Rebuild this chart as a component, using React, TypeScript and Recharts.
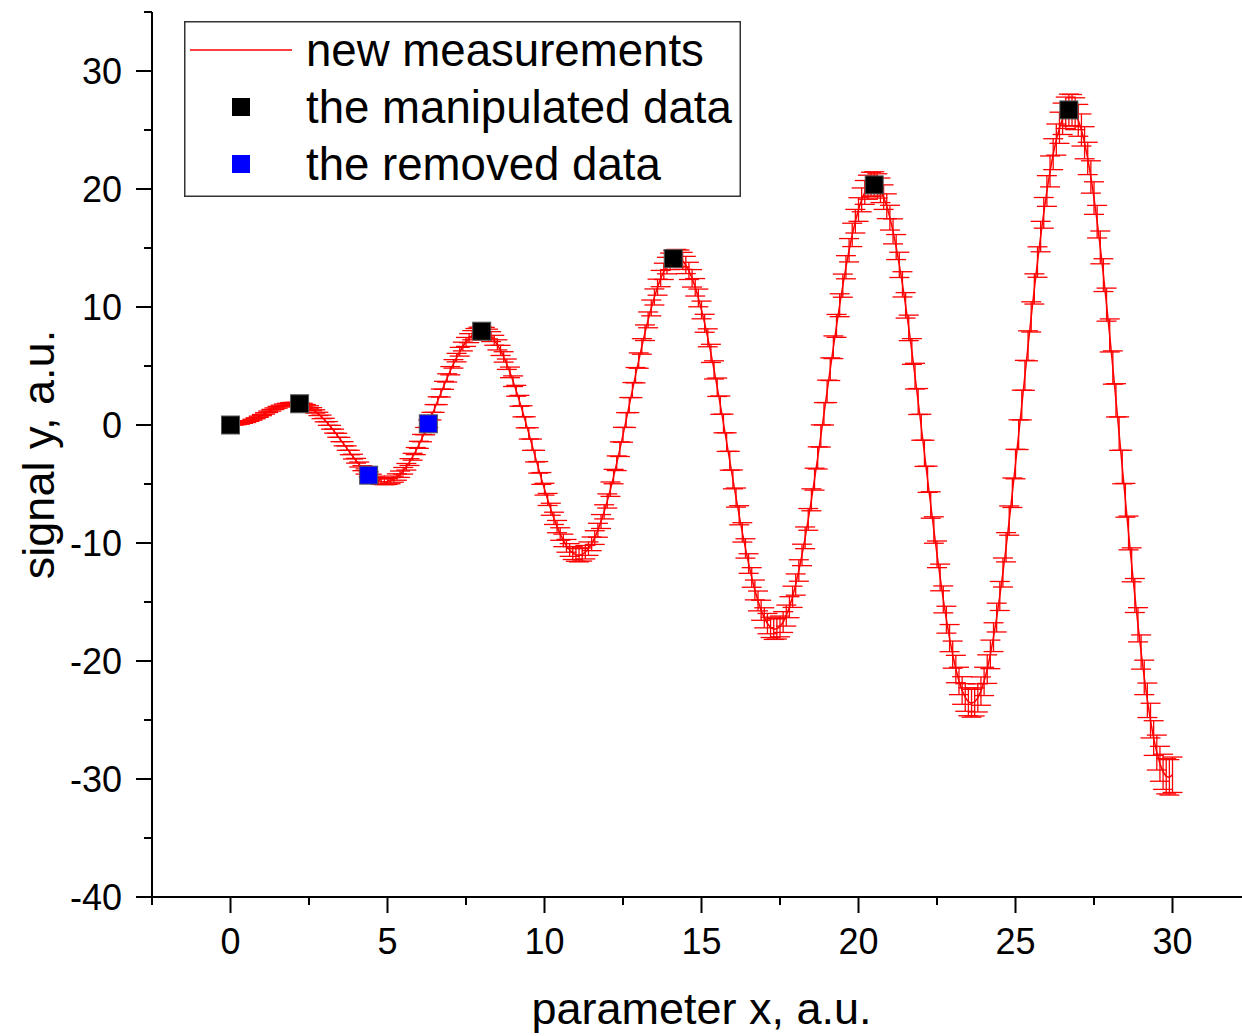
import React from 'react';
import { ScatterChart, Scatter, XAxis, YAxis, ErrorBar, Legend } from 'recharts';

const FONT = '"Liberation Sans", Arial, sans-serif';

// axis ticks (major ones carry a label, minor ones only a short tick)
const X_MAJOR_TICKS = [0, 5, 10, 15, 20, 25, 30];
const X_MINOR_TICKS = [-2.5, 2.5, 7.5, 12.5, 17.5, 22.5, 27.5, 32.5];
const Y_MAJOR_TICKS = [-40, -30, -20, -10, 0, 10, 20, 30];
const Y_MINOR_TICKS = [-35, -25, -15, -5, 5, 15, 25, 35];

const MEAS_X = [
  0, 0.1, 0.2, 0.3, 0.4, 0.5, 0.6, 0.7, 0.8, 0.9,
  1, 1.1, 1.2, 1.3, 1.4, 1.5, 1.6, 1.7, 1.8, 1.9,
  2, 2.1, 2.2, 2.3, 2.4, 2.5, 2.6, 2.7, 2.8, 2.9,
  3, 3.1, 3.2, 3.3, 3.4, 3.5, 3.6, 3.7, 3.8, 3.9,
  4, 4.1, 4.2, 4.3, 4.4, 4.5, 4.6, 4.7, 4.8, 4.9,
  5, 5.1, 5.2, 5.3, 5.4, 5.5, 5.6, 5.7, 5.8, 5.9,
  6, 6.1, 6.2, 6.3, 6.4, 6.5, 6.6, 6.7, 6.8, 6.9,
  7, 7.1, 7.2, 7.3, 7.4, 7.5, 7.6, 7.7, 7.8, 7.9,
  8, 8.1, 8.2, 8.3, 8.4, 8.5, 8.6, 8.7, 8.8, 8.9,
  9, 9.1, 9.2, 9.3, 9.4, 9.5, 9.6, 9.7, 9.8, 9.9,
  10, 10.1, 10.2, 10.3, 10.4, 10.5, 10.6, 10.7, 10.8, 10.9,
  11, 11.1, 11.2, 11.3, 11.4, 11.5, 11.6, 11.7, 11.8, 11.9,
  12, 12.1, 12.2, 12.3, 12.4, 12.5, 12.6, 12.7, 12.8, 12.9,
  13, 13.1, 13.2, 13.3, 13.4, 13.5, 13.6, 13.7, 13.8, 13.9,
  14, 14.1, 14.2, 14.3, 14.4, 14.5, 14.6, 14.7, 14.8, 14.9,
  15, 15.1, 15.2, 15.3, 15.4, 15.5, 15.6, 15.7, 15.8, 15.9,
  16, 16.1, 16.2, 16.3, 16.4, 16.5, 16.6, 16.7, 16.8, 16.9,
  17, 17.1, 17.2, 17.3, 17.4, 17.5, 17.6, 17.7, 17.8, 17.9,
  18, 18.1, 18.2, 18.3, 18.4, 18.5, 18.6, 18.7, 18.8, 18.9,
  19, 19.1, 19.2, 19.3, 19.4, 19.5, 19.6, 19.7, 19.8, 19.9,
  20, 20.1, 20.2, 20.3, 20.4, 20.5, 20.6, 20.7, 20.8, 20.9,
  21, 21.1, 21.2, 21.3, 21.4, 21.5, 21.6, 21.7, 21.8, 21.9,
  22, 22.1, 22.2, 22.3, 22.4, 22.5, 22.6, 22.7, 22.8, 22.9,
  23, 23.1, 23.2, 23.3, 23.4, 23.5, 23.6, 23.7, 23.8, 23.9,
  24, 24.1, 24.2, 24.3, 24.4, 24.5, 24.6, 24.7, 24.8, 24.9,
  25, 25.1, 25.2, 25.3, 25.4, 25.5, 25.6, 25.7, 25.8, 25.9,
  26, 26.1, 26.2, 26.3, 26.4, 26.5, 26.6, 26.7, 26.8, 26.9,
  27, 27.1, 27.2, 27.3, 27.4, 27.5, 27.6, 27.7, 27.8, 27.9,
  28, 28.1, 28.2, 28.3, 28.4, 28.5, 28.6, 28.7, 28.8, 28.9,
  29, 29.1, 29.2, 29.3, 29.4, 29.5, 29.6, 29.7, 29.8, 29.9,
  30,
];

const MEAS_Y = [
  0, 0.01, 0.04, 0.09, 0.16, 0.24, 0.34, 0.45, 0.57, 0.7,
  0.84, 0.98, 1.12, 1.25, 1.38, 1.5, 1.6, 1.69, 1.75, 1.8,
  1.82, 1.81, 1.78, 1.72, 1.62, 1.5, 1.34, 1.15, 0.94, 0.69,
  0.42, 0.13, -0.19, -0.52, -0.87, -1.23, -1.59, -1.96, -2.33, -2.68,
  -3.03, -3.35, -3.66, -3.94, -4.19, -4.4, -4.57, -4.7, -4.78, -4.81,
  -4.79, -4.72, -4.59, -4.41, -4.17, -3.88, -3.54, -3.14, -2.69, -2.21,
  -1.68, -1.11, -0.52, 0.11, 0.75, 1.4, 2.06, 2.71, 3.36, 3.99,
  4.6, 5.18, 5.71, 6.21, 6.65, 7.04, 7.36, 7.61, 7.79, 7.89,
  7.91, 7.86, 7.71, 7.49, 7.18, 6.79, 6.32, 5.77, 5.15, 4.46,
  3.71, 2.9, 2.05, 1.16, 0.23, -0.71, -1.67, -2.64, -3.59, -4.53,
  -5.44, -6.31, -7.14, -7.91, -8.61, -9.24, -9.78, -10.24, -10.59, -10.85,
  -11.0, -11.04, -10.97, -10.78, -10.48, -10.07, -9.54, -8.92, -8.18, -7.36,
  -6.44, -5.44, -4.37, -3.24, -2.05, -0.83, 0.42, 1.69, 2.96, 4.22,
  5.46, 6.66, 7.82, 8.91, 9.92, 10.85, 11.68, 12.41, 13.02, 13.51,
  13.87, 14.09, 14.17, 14.11, 13.91, 13.56, 13.06, 12.43, 11.67, 10.77,
  9.75, 8.62, 7.39, 6.07, 4.67, 3.2, 1.68, 0.13, -1.45, -3.03,
  -4.61, -6.15, -7.65, -9.1, -10.46, -11.74, -12.92, -13.98, -14.91, -15.7,
  -16.34, -16.83, -17.15, -17.3, -17.27, -17.07, -16.7, -16.15, -15.44, -14.56,
  -13.52, -12.33, -11.01, -9.56, -8.0, -6.34, -4.59, -2.79, -0.93, 0.95,
  2.85, 4.73, 6.59, 8.4, 10.15, 11.81, 13.37, 14.81, 16.11, 17.27,
  18.26, 19.08, 19.71, 20.15, 20.4, 20.43, 20.26, 19.89, 19.31, 18.54,
  17.57, 16.41, 15.08, 13.57, 11.92, 10.14, 8.23, 6.23, 4.14, 1.99,
  -0.19, -2.4, -4.6, -6.78, -8.9, -10.96, -12.92, -14.78, -16.5, -18.06,
  -19.46, -20.68, -21.69, -22.5, -23.09, -23.46, -23.58, -23.47, -23.13, -22.55,
  -21.73, -20.69, -19.44, -17.98, -16.32, -14.49, -12.5, -10.36, -8.1, -5.74,
  -3.31, -0.82, 1.69, 4.21, 6.71, 9.16, 11.53, 13.81, 15.97, 17.98,
  19.83, 21.49, 22.95, 24.19, 25.19, 25.95, 26.46, 26.7, 26.67, 26.38,
  25.82, 25.0, 23.92, 22.59, 21.02, 19.23, 17.23, 15.05, 12.7, 10.2,
  7.59, 4.87, 2.09, -0.73, -3.56, -6.38, -9.15, -11.85, -14.45, -16.93,
  -19.24, -21.39, -23.33, -25.05, -26.53, -27.76, -28.71, -29.39, -29.77, -29.86,
  -29.64,
];

const MEAS_ERR = [
  0, 0.01, 0.01, 0.02, 0.02, 0.03, 0.03, 0.04, 0.04, 0.05,
  0.05, 0.06, 0.06, 0.07, 0.07, 0.08, 0.08, 0.09, 0.09, 0.1,
  0.1, 0.11, 0.11, 0.12, 0.12, 0.13, 0.13, 0.14, 0.14, 0.15,
  0.15, 0.16, 0.16, 0.17, 0.17, 0.18, 0.18, 0.19, 0.19, 0.2,
  0.2, 0.21, 0.21, 0.22, 0.22, 0.23, 0.23, 0.24, 0.24, 0.25,
  0.25, 0.26, 0.26, 0.27, 0.27, 0.28, 0.28, 0.29, 0.29, 0.3,
  0.3, 0.31, 0.31, 0.32, 0.32, 0.33, 0.33, 0.34, 0.34, 0.35,
  0.35, 0.36, 0.36, 0.37, 0.37, 0.38, 0.38, 0.39, 0.39, 0.4,
  0.4, 0.41, 0.41, 0.42, 0.42, 0.43, 0.43, 0.44, 0.44, 0.45,
  0.45, 0.46, 0.46, 0.47, 0.47, 0.48, 0.48, 0.49, 0.49, 0.5,
  0.5, 0.51, 0.51, 0.52, 0.52, 0.53, 0.53, 0.54, 0.54, 0.55,
  0.55, 0.56, 0.56, 0.57, 0.57, 0.58, 0.58, 0.59, 0.59, 0.6,
  0.6, 0.61, 0.61, 0.62, 0.62, 0.63, 0.63, 0.64, 0.64, 0.65,
  0.65, 0.66, 0.66, 0.67, 0.67, 0.68, 0.68, 0.69, 0.69, 0.7,
  0.7, 0.71, 0.71, 0.72, 0.72, 0.73, 0.73, 0.74, 0.74, 0.75,
  0.75, 0.76, 0.76, 0.77, 0.77, 0.78, 0.78, 0.79, 0.79, 0.8,
  0.8, 0.81, 0.81, 0.82, 0.82, 0.83, 0.83, 0.84, 0.84, 0.85,
  0.85, 0.86, 0.86, 0.87, 0.87, 0.88, 0.88, 0.89, 0.89, 0.9,
  0.9, 0.91, 0.91, 0.92, 0.92, 0.93, 0.93, 0.94, 0.94, 0.95,
  0.95, 0.96, 0.96, 0.97, 0.97, 0.98, 0.98, 0.99, 0.99, 1.0,
  1.0, 1.01, 1.01, 1.02, 1.02, 1.03, 1.03, 1.04, 1.04, 1.05,
  1.05, 1.06, 1.06, 1.07, 1.07, 1.08, 1.08, 1.09, 1.09, 1.1,
  1.1, 1.11, 1.11, 1.12, 1.12, 1.13, 1.13, 1.14, 1.14, 1.15,
  1.15, 1.16, 1.16, 1.17, 1.17, 1.18, 1.18, 1.19, 1.19, 1.2,
  1.2, 1.21, 1.21, 1.22, 1.22, 1.23, 1.23, 1.24, 1.24, 1.25,
  1.25, 1.26, 1.26, 1.27, 1.27, 1.28, 1.28, 1.29, 1.29, 1.3,
  1.3, 1.31, 1.31, 1.32, 1.32, 1.33, 1.33, 1.34, 1.34, 1.35,
  1.35, 1.36, 1.36, 1.37, 1.37, 1.38, 1.38, 1.39, 1.39, 1.4,
  1.4, 1.41, 1.41, 1.42, 1.42, 1.43, 1.43, 1.44, 1.44, 1.45,
  1.45, 1.46, 1.46, 1.47, 1.47, 1.48, 1.48, 1.49, 1.49, 1.5,
  1.5,
];

// highlighted points
const KEPT_X = [0, 2.2, 8.0, 14.1, 20.5, 26.7];
const KEPT_Y = [0, 1.8, 7.95, 14.1, 20.35, 26.7];
const REMOVED_X = [4.4, 6.3];
const REMOVED_Y = [-4.25, 0.1];

const measurements = MEAS_X.map((x, i) => ({ x, y: MEAS_Y[i], err: MEAS_ERR[i] }));
const kept = KEPT_X.map((x, i) => ({ x, y: KEPT_Y[i] }));
const removed = REMOVED_X.map((x, i) => ({ x, y: REMOVED_Y[i] }));

const X_TICKS = [...X_MINOR_TICKS, ...X_MAJOR_TICKS].sort((a, b) => a - b);
const Y_TICKS = [...Y_MINOR_TICKS, ...Y_MAJOR_TICKS].sort((a, b) => a - b);

const renderXTick = (props: any) => {
  const { x, y, payload } = props;
  const major = X_MAJOR_TICKS.includes(payload.value);
  return (
    <g>
      <line x1={x} y1={y} x2={x} y2={y + (major ? 16 : 8)} stroke="#000" strokeWidth={2} />
      {major && (
        <text x={x} y={y + 57} textAnchor="middle" fontSize={36} fontFamily={FONT} fill="#000">
          {payload.value}
        </text>
      )}
    </g>
  );
};

const renderYTick = (props: any) => {
  const { x, y, payload } = props;
  const major = Y_MAJOR_TICKS.includes(payload.value);
  return (
    <g>
      <line x1={x - (major ? 16 : 8)} y1={y} x2={x} y2={y} stroke="#000" strokeWidth={2} />
      {major && (
        <text x={x - 30} y={y + 13} textAnchor="end" fontSize={36} fontFamily={FONT} fill="#000">
          {payload.value}
        </text>
      )}
    </g>
  );
};

const renderNothing = () => <g />;

const renderSquare = (props: any) => (
  <rect
    x={props.cx - 9}
    y={props.cy - 9}
    width={18}
    height={18}
    fill={props.fill}
    stroke="#555"
    strokeWidth={1}
  />
);

const renderLegend = (props: any) => {
  const payload = props.payload || [];
  return (
    <svg width={557} height={176} style={{ display: 'block' }}>
      <rect x={0.75} y={0.75} width={555.5} height={174.5} fill="#fff" stroke="#333" strokeWidth={1.5} />
      {payload.map((entry: any, i: number) => {
        const cy = 29 + i * 57;
        return (
          <g key={entry.value}>
            {entry.type === 'line' ? (
              <line x1={6} y1={cy} x2={108} y2={cy} stroke={entry.color} strokeWidth={1.5} />
            ) : (
              <rect x={48} y={cy - 9} width={18} height={18} fill={entry.color} />
            )}
            <text x={122} y={cy + 16} fontSize={45.6} fontFamily={FONT} fill="#000">
              {entry.value}
            </text>
          </g>
        );
      })}
    </svg>
  );
};

export default function App() {
  return (
    <div
      style={{
        position: 'absolute',
        left: 0,
        top: 0,
        width: 1242,
        height: 1036,
        overflow: 'hidden',
        background: '#fff',
      }}
    >
      <ScatterChart width={1260} height={1036} margin={{ top: 12, right: 9, bottom: 0, left: 0 }}>
        <XAxis
          type="number"
          dataKey="x"
          domain={[-2.5, 32.5]}
          ticks={X_TICKS}
          interval={0}
          allowDataOverflow
          height={139}
          tickSize={0}
          tickMargin={0}
          tickLine={false}
          tick={renderXTick}
          axisLine={{ stroke: '#000', strokeWidth: 2 }}
          label={{
            value: 'parameter x, a.u.',
            position: 'insideBottom',
            offset: 12,
            fill: '#000',
            fontSize: 45,
            fontFamily: FONT,
          }}
        />
        <YAxis
          type="number"
          dataKey="y"
          domain={[-40, 35]}
          ticks={Y_TICKS}
          interval={0}
          allowDataOverflow
          width={152}
          tickSize={0}
          tickMargin={0}
          tickLine={false}
          tick={renderYTick}
          axisLine={{ stroke: '#000', strokeWidth: 2 }}
          label={{
            value: 'signal y, a.u.',
            angle: -90,
            position: 'insideLeft',
            offset: 38,
            fill: '#000',
            fontSize: 45,
            fontFamily: FONT,
            style: { textAnchor: 'middle' },
          }}
        />
        <Legend
          layout="vertical"
          align="center"
          verticalAlign="middle"
          content={renderLegend}
          wrapperStyle={{ left: 184, top: 21, width: 557, height: 176 }}
        />
        <Scatter
          name="new measurements"
          data={measurements}
          fill="#ff0000"
          legendType="line"
          line={{ stroke: '#ff0000', strokeWidth: 1.5 }}
          shape={renderNothing}
          isAnimationActive={false}
        >
          <ErrorBar dataKey="err" direction="y" width={10} stroke="#ff0000" strokeWidth={1.3} isAnimationActive={false} />
        </Scatter>
        <Scatter
          name="the manipulated data"
          data={kept}
          fill="#000000"
          legendType="square"
          shape={renderSquare}
          isAnimationActive={false}
        />
        <Scatter
          name="the removed data"
          data={removed}
          fill="#0000ff"
          legendType="square"
          shape={renderSquare}
          isAnimationActive={false}
        />
      </ScatterChart>
    </div>
  );
}
